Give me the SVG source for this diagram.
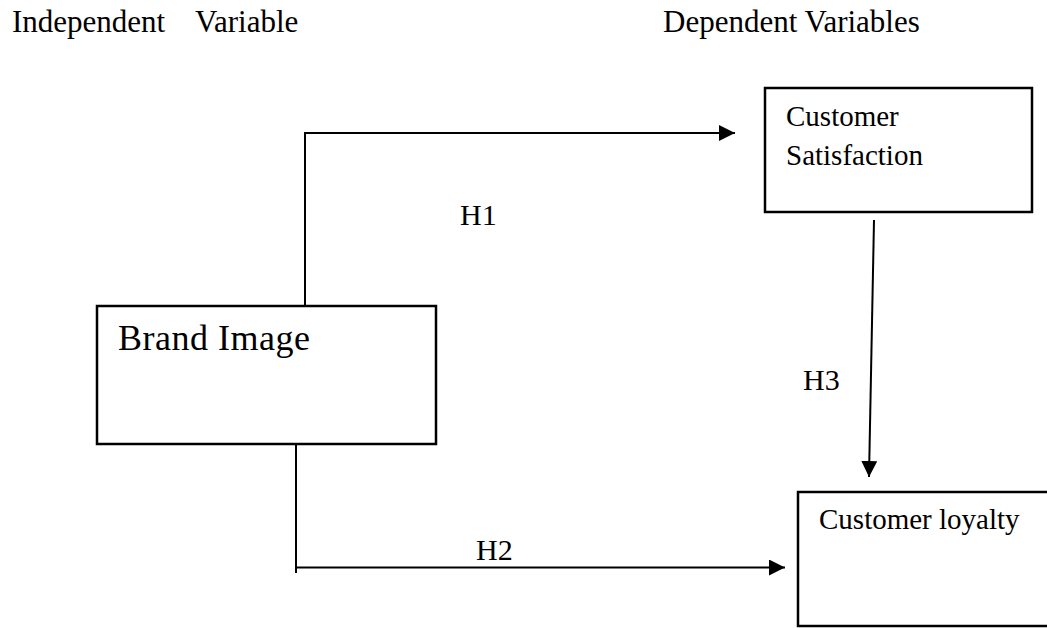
<svg xmlns="http://www.w3.org/2000/svg" width="1047" height="628" viewBox="0 0 1047 628">
<style>
.t{font-family:"Liberation Serif","Times New Roman",serif;font-size:30px;fill:#000}
.box{fill:#fff;stroke:#000;stroke-width:2.5}
.c{fill:none;stroke:#000;stroke-width:2}
</style>
<defs>
<marker id="ah" viewBox="0 0 16 16" refX="16" refY="8" markerWidth="16" markerHeight="16" markerUnits="userSpaceOnUse" orient="auto">
<path d="M0,0 L16,8 L0,16 z" fill="#000"/>
</marker>
</defs>
<rect width="1047" height="628" fill="#fff"/>
<g id="titles">
<text class="t" x="12" y="32" style="font-size:31px">Independent</text>
<text class="t" x="195" y="32" style="font-size:31px">Variable</text>
<text class="t" x="663" y="32" style="font-size:31px">Dependent Variables</text>
</g>
<g id="connectors">
<path class="c" d="M305,306 L305,133 L735,133" marker-end="url(#ah)"/>
<path class="c" d="M874,220 L869,477" marker-end="url(#ah)"/>
<path class="c" d="M296,442 L296,573 M296,567.5 L785,567.5" marker-end="url(#ah)"/>
<text class="t" x="460" y="225">H1</text>
<text class="t" x="476" y="560">H2</text>
<text class="t" x="803" y="390">H3</text>
</g>
<g id="node-satisfaction">
<rect class="box" x="765" y="88" width="267" height="124"/>
<text class="t" x="786" y="126" style="font-size:29px">Customer</text>
<text class="t" x="786" y="165" style="font-size:29px">Satisfaction</text>
</g>
<g id="node-brand">
<rect class="box" x="97" y="306" width="339" height="138"/>
<text class="t" x="118" y="350" style="font-size:36px;letter-spacing:0.5px">Brand Image</text>
</g>
<g id="node-loyalty">
<rect class="box" x="798" y="492" width="252" height="134"/>
<text class="t" x="819" y="529" style="font-size:29px">Customer loyalty</text>
</g>
</svg>
